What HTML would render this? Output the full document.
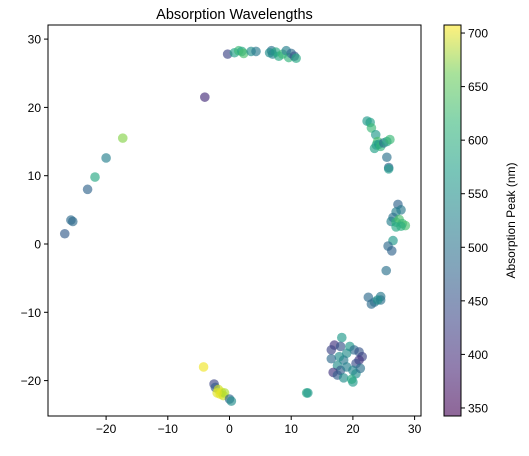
<!DOCTYPE html>
<html><head><meta charset="utf-8"><style>
body{margin:0;background:#fff;font-family:"Liberation Sans",sans-serif}
svg text{font-family:"Liberation Sans",sans-serif;fill:#000}
</style></head><body>
<svg id="c" width="529" height="451">
<defs><linearGradient id="vg" x1="0" y1="1" x2="0" y2="0">
<stop offset="0" stop-color="#440154"/><stop offset="0.125" stop-color="#482878"/><stop offset="0.25" stop-color="#3e4989"/><stop offset="0.375" stop-color="#31688e"/><stop offset="0.5" stop-color="#26828e"/><stop offset="0.625" stop-color="#1f9e89"/><stop offset="0.75" stop-color="#35b779"/><stop offset="0.875" stop-color="#6ece58"/><stop offset="1" stop-color="#fde725"/></linearGradient></defs>
</svg>
<script>
const xs=[-0.3,0.8,1.5,2,2.3,3.5,4.3,6.8,7,7.5,8,8.6,9.2,9.6,10,10.5,10.8,6.5,
-4,-17.3,-20,-21.8,-23,-25.7,-25.4,-26.7,
22.3,22.8,23,23.7,24,23.8,23.5,24.2,24.5,25,25.5,26,25.5,25.8,25.8,
27.3,27.8,27,26.5,26.2,27,27.5,28,28.5,27,27.8,26.5,25.7,26.3,25.4,
22.5,23,23.5,24.5,24.5,24,
18.2,17,18,16.5,19.5,20.2,21,21.5,21,20.5,19,18.5,17.8,16.5,17.5,18,19,20,20.5,21.2,16.8,17.5,18.5,20,19.8,12.5,12.7,
-4.2,-2.5,-2.3,-1.8,-1.3,-1.5,-1,-0.8,0,0.3,-2];
const ys=[27.8,28,28.3,28.2,27.9,28.2,28.2,28.3,27.8,28.1,27.5,27.8,28.3,27.3,27.9,27.5,27.2,28,
21.5,15.5,12.6,9.8,8,3.5,3.3,1.5,
18,17.8,17,16,15,14.5,14,14.6,14.3,14.8,15,15.3,12.7,11.2,11,
5.8,5,4.7,3.9,3.3,3.2,3.6,3,2.7,2.5,2.6,0.5,-0.3,-1,-3.9,
-7.8,-8.8,-8.5,-8.2,-7.7,-8.2,
-13.7,-14.8,-15,-15.5,-15,-15.5,-15.8,-16.5,-17,-17.5,-16,-17,-16.5,-16.8,-17.8,-18.5,-18,-18.5,-19,-18.2,-18.8,-19.2,-19.6,-20.2,-19.8,-21.8,-21.8,
-18,-20.5,-21,-21.3,-21.7,-22,-22.2,-21.8,-22.7,-23,-21.8];
const vals=[420,550,590,560,600,520,490,480,500,560,560,590,500,580,470,440,560,520,
390,640,500,560,460,470,470,450,
540,550,590,540,600,560,550,540,580,480,560,590,480,460,540,
460,490,500,480,500,580,600,590,600,560,570,540,470,460,480,
470,470,480,480,490,520,
540,400,440,420,540,470,440,420,400,430,520,490,520,470,520,450,500,510,520,480,400,450,520,540,560,560,540,
700,420,450,680,690,700,680,660,460,520,690];
const xTicks=[-20,-10,0,10,20,30], yTicks=[-20,-10,0,10,20,30], cTicks=[350,400,450,500,550,600,650,700];
const NS='http://www.w3.org/2000/svg',svg=document.getElementById('c');
const L=48,R=421,T=25,B=416;
const sx=v=>229.5+v*6.17, sy=v=>244-v*6.83;
const CV0=342.5,CV1=707.5, cy=v=>B-(v-CV0)/(CV1-CV0)*(B-T);
const stops=[[68,1,84],[72,40,120],[62,73,137],[49,104,142],[38,130,142],[31,158,137],[53,183,121],[110,206,88],[181,222,43],[253,231,37]];
function vir(v){let t=Math.max(0,Math.min(1,(v-CV0)/(CV1-CV0)))*(stops.length-1);let i=Math.min(Math.floor(t),stops.length-2),f=t-i;
const c=stops[i].map((a,k)=>Math.round(a+(stops[i+1][k]-a)*f));return `rgb(${c})`;}
function mk(tag,a,p){const e=document.createElementNS(NS,tag);for(const k in a)e.setAttribute(k,a[k]);(p||svg).appendChild(e);return e;}
let t=mk('text',{x:234.5,y:19,'font-size':14.5,'text-anchor':'middle'});t.textContent='Absorption Wavelengths';


const pts=mk('g',{});


xs.forEach((x,i)=>{const c=mk('circle',{cx:sx(x),cy:sy(ys[i]),r:4.8,fill:vir(vals[i]),'fill-opacity':0.65},pts);

});
const fr=mk('rect',{x:L,y:T,width:R-L,height:B-T,fill:'none',stroke:'#000','stroke-width':1});


xTicks.forEach(v=>{const x=sx(v);mk('line',{x1:x,x2:x,y1:B,y2:B+4,stroke:'#000'});
const e=mk('text',{x:x,y:B+17,'font-size':12,'text-anchor':'middle'});e.textContent=v<0?'\u2212'+(-v):v;

});
yTicks.forEach(v=>{const y=sy(v);mk('line',{x1:L-4,x2:L,y1:y,y2:y,stroke:'#000'});
const e=mk('text',{x:L-7,y:y+4.5,'font-size':12,'text-anchor':'end'});e.textContent=v<0?'\u2212'+(-v):v;

});
const cb=mk('rect',{x:444,y:T,width:17,height:B-T,fill:'url(#vg)','fill-opacity':0.6,stroke:'#000'});


cTicks.forEach(v=>{const y=cy(v);mk('line',{x1:461,x2:465,y1:y,y2:y,stroke:'#000'});
const e=mk('text',{x:468,y:y+4.5,'font-size':12});e.textContent=v;

});
const ct=mk('text',{x:515,y:(T+B)/2,'font-size':12,'text-anchor':'middle',transform:`rotate(-90 515 ${(T+B)/2})`});ct.textContent='Absorption Peak (nm)';


</script>
</body></html>
